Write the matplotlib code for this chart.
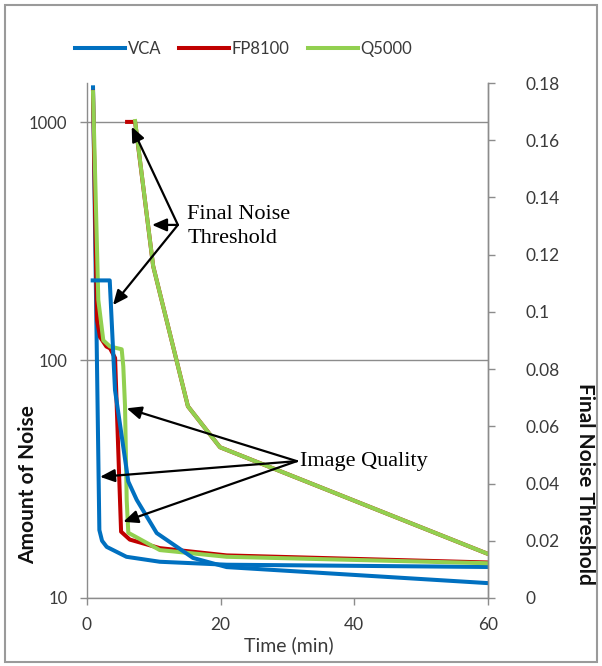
import matplotlib
matplotlib.use("Agg")
import matplotlib.pyplot as plt
from matplotlib.patches import Rectangle
from matplotlib.ticker import FixedLocator, FuncFormatter, NullLocator
import numpy as np

plt.rcParams['font.family'] = ['Lato', 'DejaVu Sans']

# ---------------- data ----------------
series_names = ["VCA", "FP8100", "Q5000"]
colors = ["#0070C0", "#C00000", "#92D050"]

# Amount of noise (left, log axis)
vca_noise_t = [0.9, 1.85, 2.25, 2.95, 5.9, 10.9, 20.9, 60]
vca_noise_v = [1400, 19.3, 17.4, 16.4, 14.9, 14.2, 13.8, 13.5]

fp_noise_t = [0.9, 1.5, 1.95, 2.9, 3.45, 4.2, 5.1, 6.4, 10.9, 20.9, 60]
fp_noise_v = [1340, 147, 125, 114, 112, 102, 19.0, 17.6, 16.2, 15.1, 14.1]

q_noise_t = [0.9, 1.69, 2.44, 3.44, 5.19, 5.43, 5.69, 5.94, 6.18, 10.9, 20.9, 60]
q_noise_v = [1337, 179, 121, 114, 111, 94, 64, 25.8, 18.8, 15.9, 14.9, 14.0]

# Final noise threshold (right, linear axis)
vca_thr_t = [0.85, 3.4, 4.19, 6.18, 7.44, 10.43, 15.86, 20.9, 60]
vca_thr_v = [0.111, 0.111, 0.0727, 0.0407, 0.0343, 0.0227, 0.0140, 0.0108, 0.0052]

fp_thr_t = [6.0, 7.2, 9.9, 15.1, 19.9, 60]
fp_thr_v = [0.1664, 0.1664, 0.116, 0.067, 0.0527, 0.0154]

q_thr_t = [7.2, 9.9, 15.1, 19.9, 60]
q_thr_v = [0.1667, 0.116, 0.067, 0.0527, 0.0154]

x_ticks = [0, 20, 40, 60]
left_ticks = [10, 100, 1000]
right_ticks = [0, 0.02, 0.04, 0.06, 0.08, 0.1, 0.12, 0.14, 0.16, 0.18]

# ---------------- figure ----------------
W, H = 602, 666
fig = plt.figure(figsize=(W / 100, H / 100), dpi=100)
ax = fig.add_axes([87 / W, 1 - 598 / H, 401 / W, 515 / H])
ax.set_yscale('log')
ax.set_xlim(0, 60)
ax.set_ylim(10, 1460)

ax2 = ax.twinx()
ax2.set_ylim(0, 0.18)

lw = 2.9
noise = [(vca_noise_t, vca_noise_v), (fp_noise_t, fp_noise_v), (q_noise_t, q_noise_v)]
thr = [(vca_thr_t, vca_thr_v), (fp_thr_t, fp_thr_v), (q_thr_t, q_thr_v)]
handles = []
for (t, v), c, n in zip(noise, colors, series_names):
    h, = ax.plot(t, v, color=c, lw=lw, solid_joinstyle='round', label=n)
    handles.append(h)
for (t, v), c in zip(thr, colors):
    ax2.plot(t, v, color=c, lw=lw, solid_joinstyle='round')

gray = "#8c8c8c"
txt = "#3a3a3a"
ax.yaxis.set_major_locator(FixedLocator(left_ticks))
ax.yaxis.set_minor_locator(NullLocator())
ax.yaxis.set_major_formatter(FuncFormatter(lambda v, p: f"{int(round(v))}"))
ax.set_xticks(x_ticks)
ax.grid(True, axis='y', which='major', color=gray, lw=1.0)
ax.set_axisbelow(True)

ax2.set_yticks(right_ticks)
ax2.yaxis.set_major_formatter(FuncFormatter(lambda v, p: f"{round(v, 2):g}"))

for a in (ax, ax2):
    for s in a.spines.values():
        s.set_color(gray)
        s.set_linewidth(1.0)
    a.spines['top'].set_visible(False)
ax2.spines['left'].set_visible(False)
ax2.spines['bottom'].set_visible(False)

ax.tick_params(axis='y', which='both', direction='out', length=5, width=1, color=gray,
               labelsize=12, labelcolor=txt, pad=9)
ax.tick_params(axis='x', direction='out', length=5, width=1, color=gray,
               labelsize=12.5, labelcolor=txt, pad=9)
ax2.tick_params(axis='y', direction='out', length=5, width=1, color=gray,
                labelsize=12.5, labelcolor=txt, pad=22)

ax.set_ylabel("Amount of Noise", fontsize=15, fontweight='bold', color='#111111')
ax.yaxis.set_label_coords(-0.122, 0.221)
ax2.set_ylabel("Final Noise Threshold", fontsize=15, fontweight='bold', color='#111111',
               rotation=270, va='center')
ax2.yaxis.set_label_coords(1.243, 0.221)
ax.set_xlabel("Time (min)", fontsize=14, color=txt)
ax.xaxis.set_label_coords(0.504, -0.074)

fig.legend(handles, series_names, loc='center', bbox_to_anchor=(0.405, 0.926), ncol=3,
           frameon=False, handlelength=3.0, handletextpad=0.15, columnspacing=1.1,
           fontsize=12, labelcolor=txt)

# ---------------- annotations ----------------
serif = ['Liberation Serif', 'DejaVu Serif']
arrow = dict(arrowstyle='-|>,head_length=0.8,head_width=0.35', color='black', lw=1.6,
             mutation_scale=11, shrinkA=0, shrinkB=0)

thr_origin = (13.6, 0.1304)
thr_targets = [(6.69, 0.1647), (9.73, 0.1304), (3.89, 0.1024)]
for tx, ty in thr_targets:
    ax2.annotate('', xy=(tx, ty), xytext=thr_origin, arrowprops=arrow)
ax2.text(15.0, 0.1300, "Final Noise\nThreshold", fontsize=16, family=serif,
         va='center', ha='left', linespacing=1.35)

iq_origin = (31.4, 37.6)
iq_targets = [(5.94, 62.7), (1.95, 32.3), (5.43, 20.9)]
for tx, ty in iq_targets:
    ax2.annotate('', xy=(tx, ty), xycoords=ax.transData, xytext=iq_origin,
                 textcoords=ax.transData, arrowprops=arrow)
ax2.text(31.9, 37.3, "Image Quality", fontsize=16, family=serif, va='center', ha='left',
         transform=ax.transData)

fig.patches.append(Rectangle((5 / W, 4 / H), 592 / W, 657 / H, transform=fig.transFigure,
                             fill=False, edgecolor='#9a9a9a', lw=1.5))

fig.savefig("out.png", dpi=100)
